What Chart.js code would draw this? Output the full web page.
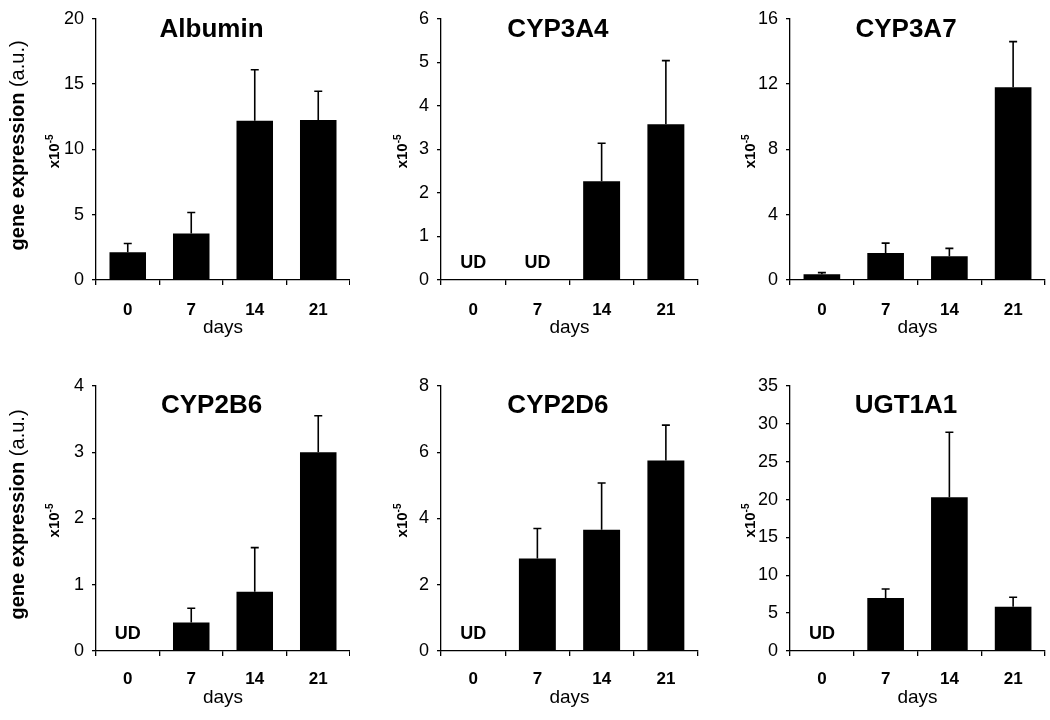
<!DOCTYPE html>
<html>
<head>
<meta charset="utf-8">
<title>Gene expression</title>
<script src="https://cdn.jsdelivr.net/npm/chart.js@4.4.1/dist/chart.umd.min.js"></script>
<style>
  body { margin: 0; background: #fff; }
  #grid { position: relative; width: 1050px; height: 720px; }
  .panel { position: absolute; width: 350px; height: 360px; }
</style>
</head>
<body>
<div id="grid"></div>
<script>
// Data (x10^-5), null = UD (undetected)
const days = ['0', '7', '14', '21'];
const genes = ['Albumin', 'CYP3A4', 'CYP3A7', 'CYP2B6', 'CYP2D6', 'UGT1A1'];

const albumin   = [2.12, 3.56, 12.2, 12.25];
const albuminSd = [0.68, 1.61, 3.9, 2.2];
const cyp3a4    = [null, null, 2.27, 3.575];
const cyp3a4Sd  = [null, null, 0.87, 1.465];
const cyp3a7    = [0.35, 1.66, 1.45, 11.8];
const cyp3a7Sd  = [0.1, 0.6, 0.49, 2.8];
const cyp2b6    = [null, 0.43, 0.895, 3.0];
const cyp2b6Sd  = [null, 0.215, 0.665, 0.55];
const cyp2d6    = [null, 2.79, 3.66, 5.75];
const cyp2d6Sd  = [null, 0.91, 1.41, 1.07];
const ugt1a1    = [null, 7.0, 20.3, 5.85];
const ugt1a1Sd  = [null, 1.19, 8.6, 1.24];

const yMax  = [20, 6, 16, 4, 8, 35];
const yStep = [5, 1, 4, 1, 2, 5];

const means  = [albumin, cyp3a4, cyp3a7, cyp2b6, cyp2d6, ugt1a1];
const errors = [albuminSd, cyp3a4Sd, cyp3a7Sd, cyp2b6Sd, cyp2d6Sd, ugt1a1Sd];

// Panel layout
const colAxisWidth = [96, 91, 90];
const colRightPad  = [0, 2, 5];
const colUnitX     = [58.5, 57, 55];
const rowTopPad    = [16, 26];
const rowXHeight   = [80, 69];
const rowTickPad   = [14.8, 12.8];
const rowDaysPad   = [20.4, 10.4];
const rowTitleBase = [18.5, 27];

const FONT = "'Liberation Sans', Arial, Helvetica, sans-serif";
Chart.defaults.font.family = FONT;
Chart.defaults.color = '#000';

// error bars, UD labels, titles and y labels
const panelDecor = {
    id: 'panelDecor',
    afterDatasetsDraw(chart, args, opts) {
        const ctx = chart.ctx;
        const y = chart.scales.y;
        const x = chart.scales.x;
        const meta = chart.getDatasetMeta(0);
        ctx.save();
        ctx.strokeStyle = '#000';
        ctx.lineWidth = 1.6;
        opts.means.forEach((v, i) => {
            if (v === null) {
                ctx.fillStyle = '#000';
                ctx.font = 'bold 18px ' + FONT;
                ctx.textAlign = 'center';
                ctx.textBaseline = 'alphabetic';
                ctx.fillText('UD', x.getPixelForValue(i), y.getPixelForValue(0) - 12);
                return;
            }
            const bar = meta.data[i];
            const top = y.getPixelForValue(v + opts.sd[i]);
            ctx.beginPath();
            ctx.moveTo(bar.x, bar.y);
            ctx.lineTo(bar.x, top);
            ctx.moveTo(bar.x - 4, top);
            ctx.lineTo(bar.x + 4, top);
            ctx.stroke();
        });
        ctx.restore();
    },
    afterDraw(chart, args, opts) {
        const ctx = chart.ctx;
        const a = chart.chartArea;
        const mid = (a.top + a.bottom) / 2;
        ctx.save();
        ctx.fillStyle = '#000';

        // panel title
        ctx.font = 'bold 26px ' + FONT;
        ctx.textAlign = 'center';
        ctx.textBaseline = 'alphabetic';
        ctx.fillText(opts.title, a.left + (a.right - a.left) * 0.455, a.top + rowTitleBase[opts.row]);

        // x10-5
        ctx.save();
        ctx.translate(colUnitX[opts.col], mid + 2);
        ctx.rotate(-Math.PI / 2);
        ctx.font = 'bold 15px ' + FONT;
        const w1 = ctx.measureText('x10').width;
        ctx.font = 'bold 10px ' + FONT;
        const w2 = ctx.measureText('-5').width;
        ctx.textAlign = 'left';
        ctx.font = 'bold 15px ' + FONT;
        ctx.fillText('x10', -(w1 + w2) / 2, 0);
        ctx.font = 'bold 10px ' + FONT;
        ctx.fillText('-5', -(w1 + w2) / 2 + w1, -6);
        ctx.restore();

        // shared y title on the left column
        if (opts.col === 0) {
            ctx.save();
            ctx.translate(24, mid - 4);
            ctx.rotate(-Math.PI / 2);
            ctx.font = 'bold 20px ' + FONT;
            const b = ctx.measureText('gene expression').width;
            ctx.font = '20px ' + FONT;
            const r = ctx.measureText(' (a.u.)').width;
            ctx.textAlign = 'left';
            ctx.font = 'bold 20px ' + FONT;
            ctx.fillText('gene expression', -(b + r) / 2, 0);
            ctx.font = '20px ' + FONT;
            ctx.fillText(' (a.u.)', -(b + r) / 2 + b, 0);
            ctx.restore();
        }
        ctx.restore();
    }
};

const grid = document.getElementById('grid');

genes.forEach((gene, k) => {
    const col = k % 3;
    const row = Math.floor(k / 3);
    const box = document.createElement('div');
    box.className = 'panel';
    box.style.left = (col * 350) + 'px';
    box.style.top = (row * 360) + 'px';
    const canvas = document.createElement('canvas');
    canvas.width = 350;
    canvas.height = 360;
    box.appendChild(canvas);
    grid.appendChild(box);

    new Chart(canvas, {
        type: 'bar',
        data: {
            labels: days,
            datasets: [{
                data: means[k],
                backgroundColor: '#000',
                borderColor: '#000',
                borderWidth: 0,
                categoryPercentage: 1,
                barPercentage: 0.575
            }]
        },
        plugins: [panelDecor],
        options: {
            responsive: false,
            animation: false,
            layout: { padding: { left: 0, top: rowTopPad[row], right: colRightPad[col], bottom: 0 } },
            plugins: {
                legend: { display: false },
                tooltip: { enabled: false },
                panelDecor: { title: gene, means: means[k], sd: errors[k], col: col, row: row }
            },
            scales: {
                x: {
                    afterFit: s => { s.height = rowXHeight[row]; },
                    grid: { display: true, offset: true, drawOnChartArea: false, drawTicks: true, tickLength: 5, color: '#000', lineWidth: 1.3 },
                    border: { display: true, color: '#000', width: 1.3 },
                    ticks: { color: '#000', font: { size: 17, weight: 'bold' }, padding: rowTickPad[row] },
                    title: { display: true, text: 'days', color: '#000', font: { size: 19 }, padding: { top: 0, bottom: rowDaysPad[row] } }
                },
                y: {
                    min: 0,
                    max: yMax[k],
                    afterFit: s => { s.width = colAxisWidth[col]; },
                    grid: { display: true, drawOnChartArea: false, drawTicks: true, tickLength: 4, color: '#000', lineWidth: 1.3 },
                    border: { display: true, color: '#000', width: 1.3 },
                    ticks: { stepSize: yStep[k], color: '#000', font: { size: 18 }, padding: 8 }
                }
            }
        }
    });
});
</script>
</body>
</html>
